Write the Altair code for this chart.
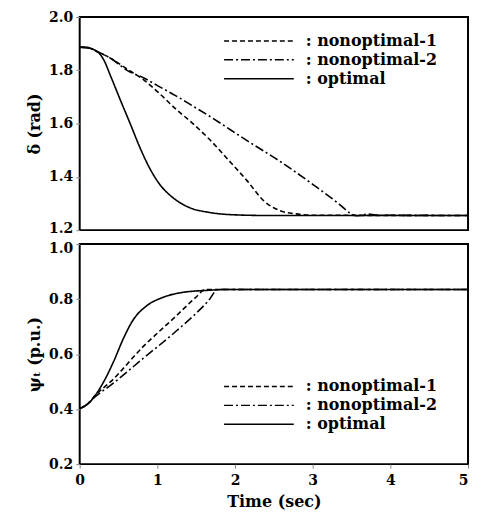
import altair as alt
import pandas as pd

series_names = ["nonoptimal-1", "nonoptimal-2", "optimal"]

# Top panel: delta (rad)
delta_t_n1 = [0, 0.1, 0.228, 0.4, 0.61, 0.82, 1.03, 1.24, 1.45, 1.66, 1.95, 2.16, 2.37, 2.58, 2.79, 3.0, 5]
delta_v_n1 = [1.887, 1.886, 1.87, 1.845, 1.805, 1.765, 1.712, 1.654, 1.602, 1.544, 1.452, 1.384, 1.31, 1.273, 1.261, 1.256, 1.255]
delta_t_n2 = [0, 0.1, 0.228, 0.4, 0.61, 0.82, 1.03, 1.24, 1.45, 1.66, 1.95, 2.16, 2.58, 3.0, 3.34, 3.49, 3.56, 3.72, 3.85, 5]
delta_v_n2 = [1.887, 1.886, 1.87, 1.845, 1.80, 1.772, 1.738, 1.704, 1.667, 1.63, 1.575, 1.535, 1.458, 1.372, 1.298, 1.262, 1.254, 1.26, 1.256, 1.255]
delta_t_opt = [0, 0.1, 0.228, 0.31, 0.4, 0.52, 0.65, 0.78, 0.9, 1.03, 1.2, 1.41, 1.66, 1.95, 2.4, 5]
delta_v_opt = [1.886, 1.884, 1.87, 1.839, 1.777, 1.691, 1.60, 1.507, 1.433, 1.372, 1.322, 1.285, 1.267, 1.258, 1.255, 1.255]

# Bottom panel: psi_t (p.u.)
psi_t_n1 = [0, 0.1, 0.2, 0.4, 0.82, 1.24, 1.49, 1.62, 5]
psi_v_n1 = [0.402, 0.418, 0.45, 0.50, 0.628, 0.738, 0.805, 0.835, 0.835]
psi_t_n2 = [0, 0.1, 0.2, 0.4, 0.82, 1.24, 1.66, 1.78, 5]
psi_v_n2 = [0.402, 0.418, 0.445, 0.487, 0.585, 0.683, 0.795, 0.835, 0.835]
psi_t_opt = [0, 0.1, 0.2, 0.31, 0.44, 0.56, 0.69, 0.86, 1.07, 1.32, 1.66, 1.9, 5]
psi_v_opt = [0.402, 0.418, 0.45, 0.50, 0.575, 0.655, 0.725, 0.775, 0.806, 0.824, 0.832, 0.835, 0.835]

x_ticks = [0, 1, 2, 3, 4, 5]
delta_ticks = [1.2, 1.4, 1.6, 1.8, 2.0]
psi_ticks = [0.2, 0.4, 0.6, 0.8, 1.0]


def frame(pairs):
    rows = []
    for name, ts, vs in pairs:
        for t, v in zip(ts, vs):
            rows.append({"t": t, "v": v, "series": name})
    return pd.DataFrame(rows)


delta_df = frame([
    ("nonoptimal-1", delta_t_n1, delta_v_n1),
    ("nonoptimal-2", delta_t_n2, delta_v_n2),
    ("optimal", delta_t_opt, delta_v_opt),
])
psi_df = frame([
    ("nonoptimal-1", psi_t_n1, psi_v_n1),
    ("nonoptimal-2", psi_t_n2, psi_v_n2),
    ("optimal", psi_t_opt, psi_v_opt),
])

FONT = "DejaVu Serif"
dash_scale = alt.Scale(domain=series_names, range=[[5, 3], [9, 3, 2, 3], [1, 0]])


def legend(y):
    return alt.Legend(
        orient="none", legendX=144, legendY=y, title=None,
        symbolType="M-1,0H9", symbolSize=196, symbolStrokeWidth=1.5,
        symbolStrokeColor="black", symbolFillColor="transparent",
        labelExpr="': ' + datum.label", labelFont=FONT, labelFontSize=16,
        labelFontWeight="bold", labelColor="black", labelOffset=67,
        rowPadding=3, padding=0,
    )


def panel(df, ytitle, ydom, yticks, show_x, leg_y, h, label_shift):
    if show_x:
        xaxis = alt.Axis(
            values=x_ticks, title="Time  (sec)",
            ticks=True, tickSize=4, domain=False, grid=False,
            labelFont=FONT, labelFontSize=14, labelFontWeight="bold", labelColor="black",
            titleFont=FONT, titleFontSize=16, titleFontWeight="bold", titleColor="black",
            labelPadding=5, titlePadding=7,
            labelAlign=alt.condition("datum.value >= 5", alt.value("right"), alt.value("center")),
        )
    else:
        xaxis = None
    yaxis = alt.Axis(
        values=yticks, format=".1f", title=ytitle, ticks=True, tickSize=4,
        domain=False, grid=False,
        labelFont=FONT, labelFontSize=14, labelFontWeight="bold", labelColor="black",
        titleFont=FONT, titleFontSize=16, titleFontWeight="bold", titleColor="black",
        labelPadding=3, titlePadding=6,
        labelOffset=label_shift,
    )
    return alt.Chart(df).mark_line(color="black", strokeWidth=1.6, interpolate="monotone").encode(
        x=alt.X("t:Q", scale=alt.Scale(domain=[0, 5], nice=False), axis=xaxis),
        y=alt.Y("v:Q", scale=alt.Scale(domain=ydom, nice=False), axis=yaxis),
        strokeDash=alt.StrokeDash("series:N", scale=dash_scale, legend=legend(leg_y)),
        detail="series:N",
    ).properties(width=390, height=h)


top_shift = alt.condition("datum.value < 1.3", alt.value(-2), alt.value(0))
bottom_shift = alt.condition("datum.value > 0.9", alt.value(4), alt.value(0))

top = panel(delta_df, "δ (rad)", [1.2, 2.0], delta_ticks, False, 16, 214, top_shift)
bottom = panel(psi_df, "ψₜ (p.u.)", [0.2, 1.0], psi_ticks, True, 135, 221, bottom_shift)

chart = alt.vconcat(top, bottom, spacing=14, bounds="flush").resolve_scale(
    strokeDash="independent"
).resolve_legend(strokeDash="independent").configure_view(
    stroke="black", strokeWidth=2
).properties(padding={"left": 17, "top": 0, "right": 0, "bottom": 0})

chart.save("out.html", embed_options={"renderer": "svg", "actions": False})
